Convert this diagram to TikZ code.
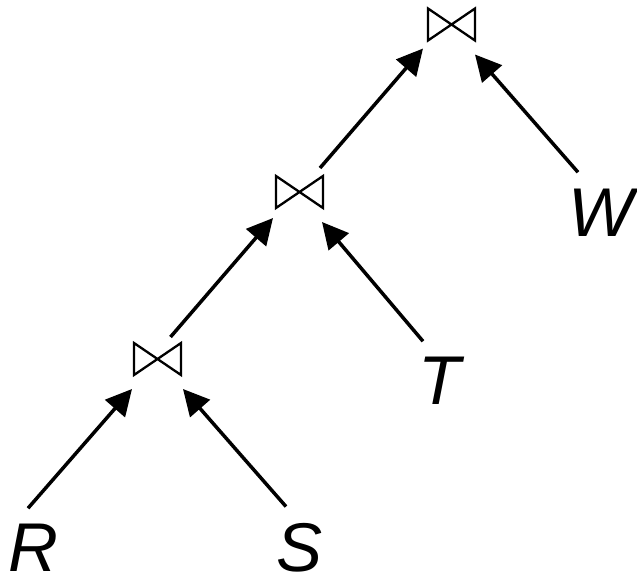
\documentclass[tikz,border=0pt]{standalone}
\usepackage{fontspec}
\setmainfont{Liberation Sans}
\usetikzlibrary{arrows.meta}
\begin{document}
\begin{tikzpicture}[x=1pt,y=-1pt,
  joinbox/.style={minimum width=47pt,minimum height=32pt,inner sep=0pt,outer sep=0pt},
  rel/.style={inner sep=0pt,outer sep=0pt,font=\fontsize{69}{83}\selectfont\itshape},
  arr/.style={line width=3.5pt,-{Triangle[length=26pt,width=26pt]}},
  bow/.style={line width=2.3pt,line join=miter}]
\useasboundingbox (0,0) rectangle (637,580);
\node[joinbox] (j1) at (157.5,359) {};
\node[joinbox] (j2) at (299.5,192) {};
\node[joinbox] (j3) at (451.5,24.5) {};
\foreach \j in {j1,j2,j3}
  \draw[bow] (\j.north west) -- (\j.south east) -- (\j.north east) -- (\j.south west) -- cycle;
\node[rel] (R) at (33,548) {R};
\node[rel] (S) at (300,548) {S};
\node[rel] (T) at (440,381) {T};
\node[rel] (W) at (601,213) {W};
\draw[arr] ([shift={(-5,-16)}]R.north) -- ([shift={(-2,14)}]j1.south west);
\draw[arr] ([shift={(-14,-17)}]S.north) -- ([shift={(2,14)}]j1.south east);
\draw[arr] ([shift={(13,-6)}]j1.north) -- ([shift={(-3,10)}]j2.south west);
\draw[arr] ([shift={(-17,-16)}]T.north) -- ([shift={(-1,14)}]j2.south east);
\draw[arr] ([shift={(20.5,-8)}]j2.north) -- ([shift={(-5,8)}]j3.south west);
\draw[arr] ([shift={(-23,-17)}]W.north) -- ([shift={(0,14)}]j3.south east);
\end{tikzpicture}
\end{document}
